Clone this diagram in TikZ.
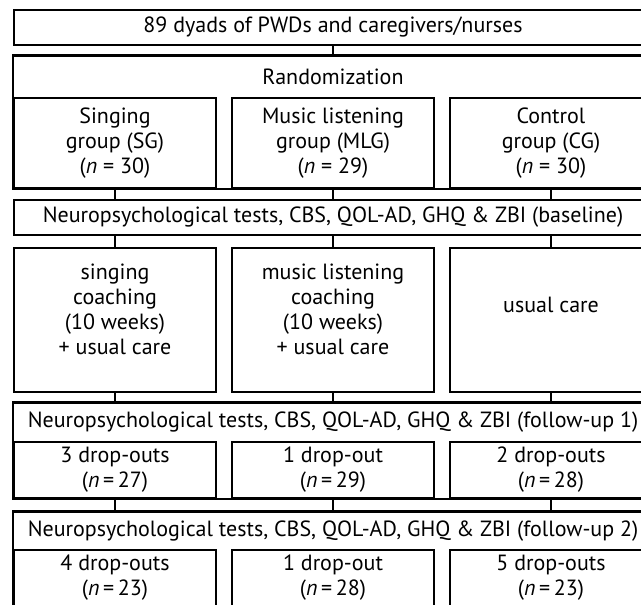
\documentclass[tikz,border=0pt]{standalone}
\usepackage{fontspec}
\setmainfont{PT Sans}
\usetikzlibrary{fit}

\begin{document}
\begin{tikzpicture}[x=0.5pt,y=-0.5pt,
  font=\fontsize{11}{12.5}\selectfont,
  wide/.style={draw=black,line width=1.2pt,minimum width=319pt,minimum height=17.5pt,inner sep=0pt,align=center},
  title/.style={minimum width=319pt,inner sep=0pt,align=center},
  frame/.style={draw=black,line width=1.2pt,inner sep=0pt},
  cell/.style={draw=black,line width=1.2pt,minimum width=101pt,inner sep=0pt,align=center},
  link/.style={line width=1.2pt,draw=black}
]
\useasboundingbox (0,0) rectangle (641,604);
\clip (0,0) rectangle (641,604);
% participants and randomization
\node[wide] (top) at (333,27.5) {89 dyads of PWDs and caregivers/nurses};
\node[title,minimum height=21pt] (rand) at (333,77) {Randomization};
\node[cell,minimum height=45pt] (sg) at (115,143) {Singing\\group (SG)\\(\textit{n} = 30)};
\node[cell,minimum height=45pt] (mlg) at (333,143) {Music listening\\group (MLG)\\(\textit{n} = 29)};
\node[cell,minimum height=45pt] (cg) at (551,143) {Control\\group (CG)\\(\textit{n} = 30)};
\node[frame,fit=(rand)(sg)(cg)] (randbox) {};
% baseline and intervention
\node[wide] (base) at (333,217.5) {Neuropsychological tests, CBS, QOL-AD, GHQ \& ZBI (baseline)};
\node[cell,minimum height=72pt,label={[align=center,yshift=5.5pt]center:singing\\coaching\\(10 weeks)\\+ usual care}] (sc) at (115,320) {};
\node[cell,minimum height=72pt,label={[align=center,yshift=5.5pt]center:music listening\\coaching\\(10 weeks)\\+ usual care}] (mc) at (333,320) {};
\node[cell,minimum height=72pt,label={[align=center,yshift=7.5pt]center:usual care}] (uc) at (551,320) {};
% follow-up 1
\node[title,minimum height=19.5pt] (fu1) at (333,422.5) {Neuropsychological tests, CBS, QOL-AD, GHQ \& ZBI (follow-up 1)};
\node[cell,minimum height=28pt] (da) at (115,470) {3 drop-outs\\(\textit{n}\,=\,27)};
\node[cell,minimum height=28pt] (db) at (333,470) {1 drop-out\\(\textit{n}\,=\,29)};
\node[cell,minimum height=28pt] (dc) at (551,470) {2 drop-outs\\(\textit{n}\,=\,28)};
\node[frame,fit=(fu1)(da)(dc)] (fu1box) {};
% follow-up 2
\node[title,minimum height=19pt] (fu2) at (333,531) {Neuropsychological tests, CBS, QOL-AD, GHQ \& ZBI (follow-up 2)};
\node[cell,minimum height=28pt] (ea) at (115,578) {4 drop-outs\\(\textit{n}\,=\,23)};
\node[cell,minimum height=28pt] (eb) at (333,578) {1 drop-out\\(\textit{n}\,=\,28)};
\node[cell,minimum height=28pt] (ec) at (551,578) {5 drop-outs\\(\textit{n}\,=\,23)};
\node[frame,fit=(fu2)(ea)(ec)] (fu2box) {};
% connectors
\draw[link] (top.south) -- (randbox.north);
\draw[link] (sg.south) -- (sg.south |- base.north);
\draw[link] (mlg.south) -- (mlg.south |- base.north);
\draw[link] (cg.south) -- (cg.south |- base.north);
\draw[link] (sc.north |- base.south) -- (sc.north);
\draw[link] (mc.north |- base.south) -- (mc.north);
\draw[link] (uc.north |- base.south) -- (uc.north);
\draw[link] (sc.south) -- (sc.south |- fu1box.north);
\draw[link] (mc.south) -- (mc.south |- fu1box.north);
\draw[link] (uc.south) -- (uc.south |- fu1box.north);
\draw[link] (da.south) -- (da.south |- fu2box.north);
\draw[link] (db.south) -- (db.south |- fu2box.north);
\draw[link] (dc.south) -- (dc.south |- fu2box.north);
\end{tikzpicture}
\end{document}
